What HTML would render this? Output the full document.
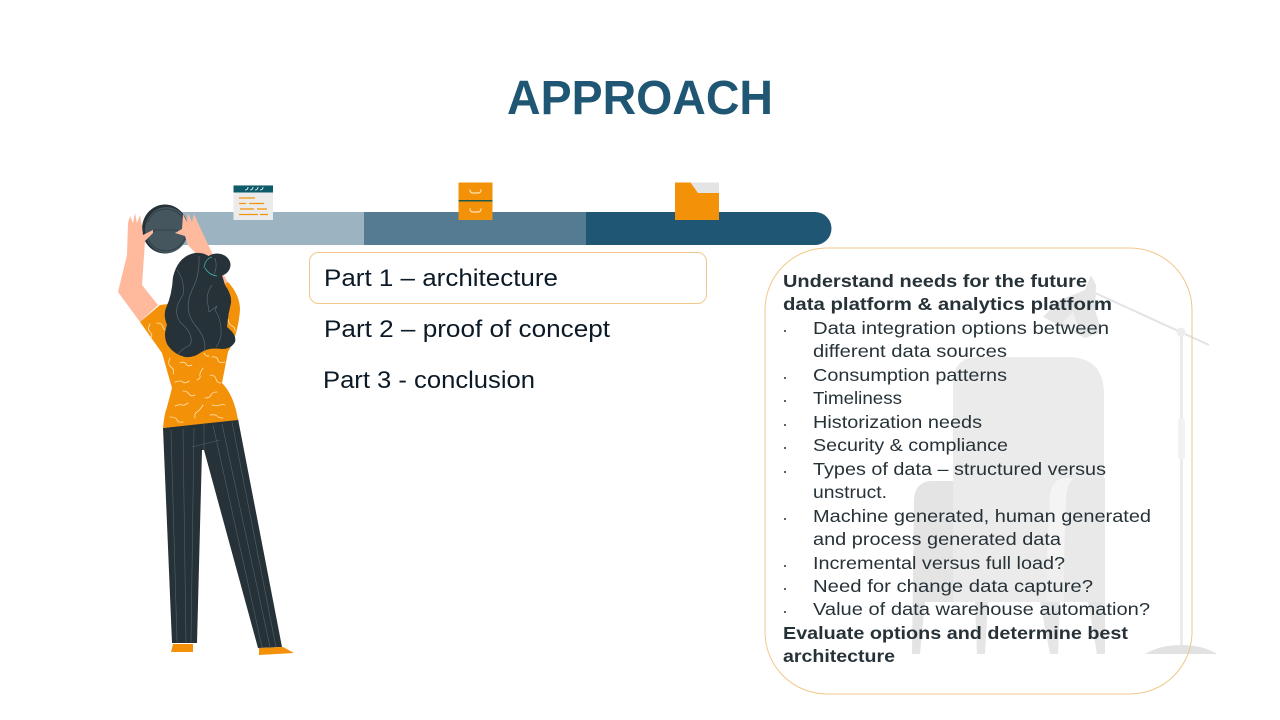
<!DOCTYPE html>
<html><head><meta charset="utf-8"><style>
html,body{margin:0;padding:0;background:#fff;width:1280px;height:720px;overflow:hidden}
svg{display:block}
.b{font:bold 17.5px "Liberation Sans",sans-serif;fill:#263238}
.r{font:17.5px "Liberation Sans",sans-serif;fill:#263238}
.p{font:24px "Liberation Sans",sans-serif;fill:#0b1a26}
.w{fill:none;stroke:#fde3b5;stroke-width:.8;stroke-linecap:round}
.h{fill:none;stroke:#5d7078;stroke-width:.6}
</style></head><body>
<svg width="1280" height="720" viewBox="0 0 1280 720" xmlns="http://www.w3.org/2000/svg">
<!-- furniture background -->
<g>
<path d="M914 500Q915 481 932 481H955V602H925L920 654H912Z" fill="#e4e4e4"/>
<path d="M953 602V382Q953 357 980 357H1067Q1104 357 1104 394V602Z" fill="#ebebeb"/>
<path d="M1047 560L1050 495Q1052 478 1067 478H1074Q1067 482 1066 500L1064 560Z" fill="#f4f4f4"/>
<path d="M1064 560L1066 500Q1067 478 1080 478H1105V602H1047V560Z" fill="#e9e9e9"/>
<path d="M1047 560H1064V602H1047Z" fill="#efefef"/>
<path d="M975 602H988L985 654H977Z" fill="#e6e6e6"/>
<path d="M1040 602H1060L1058 654H1050Z" fill="#e6e6e6"/>
<path d="M1088 602H1105V654H1097Z" fill="#e6e6e6"/>
<rect x="1180" y="332" width="3" height="316" fill="#ebebeb"/>
<rect x="1178" y="418" width="7" height="42" rx="3.500" fill="#f2f2f2"/>
<path d="M1145 654Q1160 645 1181 645Q1203 645 1217 654Z" fill="#e2e2e2"/>
<path d="M1093 292L1209 345" stroke="#e3e3e3" stroke-width="2"/>
<circle cx="1181" cy="332" r="4.500" fill="#ededed"/>
<path d="M1091 275L1096 285L1095 310L1102 332L1085 338L1043 317L1060 300L1085 290Z" fill="#e6e6e6"/>
<path d="M1063 322L1073 312L1080 332Q1070 330 1063 322Z" fill="#f1f1f1"/>
</g>
<!-- title -->
<text x="507" y="114" font-family="Liberation Sans" font-weight="bold" font-size="48" fill="#1f5673" textLength="266" lengthAdjust="spacingAndGlyphs">APPROACH</text>
<!-- bar -->
<rect x="180" y="212" width="184" height="33" fill="#9cb4c1"/>
<rect x="364" y="212" width="222" height="33" fill="#557b92"/>
<path d="M586 212H815A16.500 16.500 0 0 1 815 245H586Z" fill="#1f5673"/>
<!-- calendar -->
<rect x="233.500" y="185" width="39.500" height="35" fill="#ebebeb"/>
<rect x="233.500" y="185.500" width="39.500" height="7" fill="#0e5c6b"/>
<g stroke="#fff" stroke-width=".8" fill="none"><path d="M245 190q3 0 3-3M250 190q3 0 3-3M255 190q3 0 3-3M260 190q3 0 3-3"/></g>
<g stroke="#f39208" stroke-width="1.200"><path d="M239 198H255M239 203.500H246M249 203.500H264M240 209H254M257 209H267M239 214.500H258M260 214.500H268"/></g>
<!-- drawer -->
<rect x="458.500" y="182.500" width="34" height="37.500" fill="#f39208"/>
<rect x="458.500" y="200" width="34" height="1.500" fill="#1f5a46"/>
<path d="M470 189.500Q470 193 473 193H478Q481 193 481 189.500M470 208.500Q470 212 473 212H478Q481 212 481 208.500" fill="none" stroke="#fde3b5" stroke-width="1.200"/>
<!-- folder -->
<path d="M690 182.500H719V193H698Z" fill="#e4e4e4"/>
<path d="M675 182.500H690.500L698 193H719V220H675Z" fill="#f39208"/>
<!-- text boxes -->
<rect x="309.500" y="252.500" width="397" height="51" rx="9" fill="none" stroke="#f0c88a" stroke-width="1"/>
<rect x="765" y="248" width="427" height="446" rx="62" fill="none" stroke="#f0c88a" stroke-width="1"/>
<text class="p" x="324" y="286" textLength="234" lengthAdjust="spacingAndGlyphs">Part 1 – architecture</text>
<text class="p" x="324" y="337" textLength="286" lengthAdjust="spacingAndGlyphs">Part 2 – proof of concept</text>
<text class="p" x="323" y="388" textLength="212" lengthAdjust="spacingAndGlyphs">Part 3 - conclusion</text>
<!-- right text -->
<text class="b" x="783" y="287" textLength="304" lengthAdjust="spacingAndGlyphs">Understand needs for the future</text>
<text class="b" x="783" y="310" textLength="329" lengthAdjust="spacingAndGlyphs">data platform &amp; analytics platform</text>
<text class="r" x="813" y="334" textLength="296" lengthAdjust="spacingAndGlyphs">Data integration options between</text>
<text class="r" x="813" y="357" textLength="194" lengthAdjust="spacingAndGlyphs">different data sources</text>
<text class="r" x="813" y="381" textLength="194" lengthAdjust="spacingAndGlyphs">Consumption patterns</text>
<text class="r" x="813" y="404" textLength="89" lengthAdjust="spacingAndGlyphs">Timeliness</text>
<text class="r" x="813" y="428" textLength="169" lengthAdjust="spacingAndGlyphs">Historization needs</text>
<text class="r" x="813" y="451" textLength="195" lengthAdjust="spacingAndGlyphs">Security &amp; compliance</text>
<text class="r" x="813" y="475" textLength="293" lengthAdjust="spacingAndGlyphs">Types of data – structured versus</text>
<text class="r" x="813" y="498" textLength="74" lengthAdjust="spacingAndGlyphs">unstruct.</text>
<text class="r" x="813" y="522" textLength="338" lengthAdjust="spacingAndGlyphs">Machine generated, human generated</text>
<text class="r" x="813" y="545" textLength="248" lengthAdjust="spacingAndGlyphs">and process generated data</text>
<text class="r" x="813" y="569" textLength="252" lengthAdjust="spacingAndGlyphs">Incremental versus full load?</text>
<text class="r" x="813" y="592" textLength="280" lengthAdjust="spacingAndGlyphs">Need for change data capture?</text>
<text class="r" x="813" y="615" textLength="337" lengthAdjust="spacingAndGlyphs">Value of data warehouse automation?</text>
<text class="b" x="783" y="639" textLength="345" lengthAdjust="spacingAndGlyphs">Evaluate options and determine best</text>
<text class="b" x="783" y="662" textLength="112" lengthAdjust="spacingAndGlyphs">architecture</text>
<g fill="#263238"><circle cx="785" cy="331" r="1"/><circle cx="785" cy="378" r="1"/><circle cx="785" cy="401" r="1"/><circle cx="785" cy="425" r="1"/><circle cx="785" cy="448" r="1"/><circle cx="785" cy="472" r="1"/><circle cx="785" cy="519" r="1"/><circle cx="785" cy="566" r="1"/><circle cx="785" cy="589" r="1"/><circle cx="785" cy="612" r="1"/></g>
<!-- person -->
<g>
<!-- disc -->
<ellipse cx="165" cy="229" rx="23" ry="24.500" fill="#263238"/>
<ellipse cx="166.500" cy="230" rx="21.500" ry="23" fill="#46565f"/>
<path d="M147 233Q150 236 155 230H177Q181 235 186 233M148 222Q152 210 166 209Q180 210 185 222M148 238Q152 250 166 251Q180 250 185 238" fill="none" stroke="#2c3a42" stroke-width=".8"/>
<!-- left arm -->
<path d="M128 223L130 216L133 223L135 213L137 223L140 215L142 226L143 235L153 230L153 233L145 241L142 285L158 305L140 322L118 292L127 255Z" fill="#ffb99d"/>
<!-- right arm -->
<path d="M175 233L182 229L183 214L187 222L188 213L192 222L194 214L198 223L213 255L232 290L224 290L200 258L188 245L185 236Z" fill="#ffb99d"/>
<!-- pants -->
<path d="M163 428L238 419L282 647L258 648L204 450L202 450L197 643L172 643Z" fill="#263238"/>
<path d="M171 430L177 642M183 429L186 642M194 428L191 642M204 422V450M192 447L220 440M213 425L262 647M222 424L270 647M232 422L276 647" fill="none" stroke="#4d626d" stroke-width=".6"/>
<!-- shoes -->
<path d="M171 652L173 644H193V652Z" fill="#f39208"/>
<path d="M259 648L283 647L294 653L259 655Z" fill="#f39208"/>
<!-- shirt -->
<path d="M140 322L160 305L200 300L228 282Q240 295 240 310Q238 335 228 352L222 383Q234 395 238 420L163 428Q164 415 167 407L172 388L162 353Z" fill="#f39208"/>
<g class="w">
<path d="M150 324q-3 5 0 8t1 6M157 323q5 0 6 4t5 3M170 358q-3 6 1 9t2 7M180 363q4-2 6 1t6 1M204 353q2 4 5 3M212 357q5-1 6 3t7 2M203 368q-4 6-3 8t-3 4M210 375q5 0 6 4t5 4M175 382q6-2 8 0t6-1M183 391q4 0 6 3t6 1M205 398q5 0 6-3t6-3M175 406q5-2 7-1t6-2M203 405q-3 5-6 7t-2 6M212 405q6 1 8 0t5 0M170 417q6 0 7 3t6 2M210 415q5-1 7 1t6 2M230 305q-4 5-1 9M228 319q1 6 4 7t3 5"/>
</g>
<!-- hair -->
<ellipse cx="217" cy="265" rx="13.500" ry="11.500" fill="#263238"/>
<path d="M195 253Q208 252 214 262Q222 272 225 285Q232 295 231 303Q228 315 227 327Q237 335 235 342Q231 349 222 349Q208 347 200 353Q193 358 185 357Q173 354 167 344Q163 335 167 325Q163 315 166 308Q172 295 173 277Q178 256 195 253Z" fill="#263238"/>
<path d="M205 268Q209 275 217 276M204 268Q205 259 212 257" fill="none" stroke="#3fa9a0" stroke-width=".8"/>
<path class="h" d="M177 270Q185 280 183 295Q172 310 180 322Q195 335 190 345Q180 350 178 355M199 256Q200 275 192 290Q183 310 195 325Q208 340 204 352M212 285Q205 295 208 305L209 312L217 306L215 310Q222 320 221 335Q220 342 216 347M215 258Q218 268 213 276"/>
</g>
</svg>
</body></html>
